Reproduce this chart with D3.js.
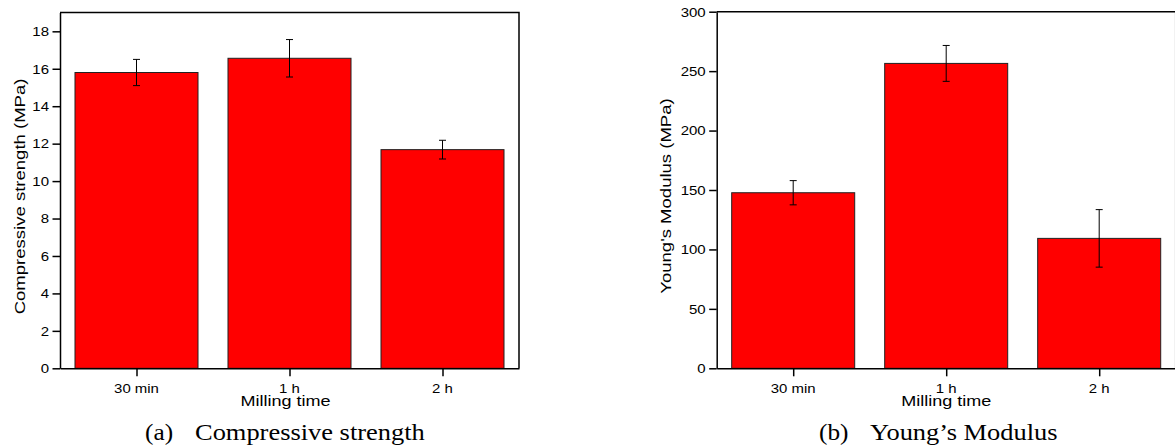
<!DOCTYPE html>
<html>
<head>
<meta charset="utf-8">
<script src="https://cdn.jsdelivr.net/npm/d3@7"></script>
<style>
  body { margin: 0; background: #fff; }
  svg { display: block; }
</style>
</head>
<body>
<div class="chart"></div>
<script>
// page size
let svg_width = 1175;
let svg_height = 446;

// data
let categories = ['30 min', '1 h', '2 h'];
let strength_values = [15.8, 16.56, 11.68];
let strength_errors = [0.7, 1.0, 0.5];
let modulus_values = [147.7, 256.5, 109.3];
let modulus_errors = [10.2, 15.1, 24.2];
let strength_ticks = [0, 2, 4, 6, 8, 10, 12, 14, 16, 18];
let modulus_ticks = [0, 50, 100, 150, 200, 250, 300];

// layout
let plot_bottom = 368.3;
let plot_w = 459;
let bar_width = 0.804;      // in category units
let sans = 'Liberation Sans, Arial, sans-serif';
let serif = 'Liberation Serif, Times New Roman, serif';

let panels = [
  { left: 60, top: 12.6, ymax: 19, values: strength_values, errors: strength_errors,
    ticks: strength_ticks, ytitle: 'Compressive strength (MPa)', ytitle_x: 20, xtitle_dx: -4,
    cap_x: 145, cap_label: '(a)', cap_text_x: 195, cap_text: 'Compressive strength' },
  { left: 716.7, top: 11.7, ymax: 300, values: modulus_values, errors: modulus_errors,
    ticks: modulus_ticks, ytitle: "Young's Modulus (MPa)", ytitle_x: 666, xtitle_dx: 0,
    cap_x: 819, cap_label: '(b)', cap_text_x: 870, cap_text: 'Young\u2019s Modulus' }
];

let svg = d3.select('.chart')
            .append('svg')
            .attr('width', svg_width)
            .attr('height', svg_height);

// text that is a bit wider than the font normally is
function wideText(g, x, y, txt, size, sx, anchor, rot, family) {
  return g.append('text')
          .attr('transform', 'translate(' + x + ',' + y + ') rotate(' + (rot || 0) + ') scale(' + sx + ',1)')
          .attr('text-anchor', anchor)
          .attr('font-family', family || sans)
          .attr('font-size', size)
          .attr('fill', '#000')
          .text(txt);
}

function drawPanel(p) {
  let g = svg.append('g');

  let x_scale = d3.scaleLinear()
                  .domain([0.5, categories.length + 0.5])
                  .range([p.left, p.left + plot_w]);

  let y_scale = d3.scaleLinear()
                  .domain([0, p.ymax])
                  .range([plot_bottom, p.top]);

  // bars
  g.selectAll('rect.bar')
    .data(p.values)
    .enter()
    .append('rect')
    .attr('class', 'bar')
    .attr('fill', '#ff0000')
    .attr('stroke', '#222')
    .attr('stroke-width', 1)
    .attr('x', function(d, i) { return x_scale(i + 1 - bar_width / 2); })
    .attr('y', function(d) { return y_scale(d); })
    .attr('width', x_scale(1 + bar_width) - x_scale(1))
    .attr('height', function(d) { return y_scale(0) - y_scale(d); });

  // error bars
  let err = g.selectAll('g.err')
             .data(p.values)
             .enter()
             .append('g')
             .attr('class', 'err')
             .attr('stroke', '#000')
             .attr('stroke-width', 1);

  err.append('line')
     .attr('x1', function(d, i) { return x_scale(i + 1); })
     .attr('x2', function(d, i) { return x_scale(i + 1); })
     .attr('y1', function(d, i) { return y_scale(d + p.errors[i]); })
     .attr('y2', function(d, i) { return y_scale(d - p.errors[i]); });

  [1, -1].forEach(function(s) {
    err.append('line')
       .attr('x1', function(d, i) { return x_scale(i + 1) - 3.5; })
       .attr('x2', function(d, i) { return x_scale(i + 1) + 3.5; })
       .attr('y1', function(d, i) { return y_scale(d + s * p.errors[i]); })
       .attr('y2', function(d, i) { return y_scale(d + s * p.errors[i]); });
  });

  // frame (top and right)
  g.append('path')
   .attr('d', 'M' + x_scale.range()[0] + ',' + y_scale.range()[1] +
              'H' + x_scale.range()[1] + 'V' + y_scale.range()[0])
   .attr('fill', 'none')
   .attr('stroke', '#000')
   .attr('stroke-width', 1.5);

  // y axis
  let y_axis = g.append('g')
                .attr('transform', 'translate(' + p.left + ',0)')
                .call(d3.axisLeft(y_scale).tickValues(p.ticks).tickSize(7.5).tickSizeOuter(0).tickFormat(''));
  y_axis.select('.domain').attr('stroke-width', 1.5);
  y_axis.selectAll('.tick line').attr('stroke-width', 1.5);
  p.ticks.forEach(function(t) {
    wideText(g, p.left - 11, y_scale(t) + 4.8, t, 13.4, 1.12, 'end');
  });

  // x axis
  let x_axis = g.append('g')
                .attr('transform', 'translate(0,' + plot_bottom + ')')
                .call(d3.axisBottom(x_scale).tickValues([1, 2, 3]).tickSize(8).tickSizeOuter(0).tickFormat(''));
  x_axis.select('.domain').attr('stroke-width', 1.5);
  x_axis.selectAll('.tick line').attr('stroke-width', 1.5);
  categories.forEach(function(c, i) {
    wideText(g, x_scale(i + 1), 392.5, c, 13.6, 1.1, 'middle');
  });

  // axis titles
  wideText(g, (x_scale.range()[0] + x_scale.range()[1]) / 2 + p.xtitle_dx, 406, 'Milling time', 14.2, 1.27, 'middle');
  wideText(g, p.ytitle_x + 5, (y_scale.range()[0] + y_scale.range()[1]) / 2 + 6, p.ytitle, 14.6, 1.27, 'middle', -90);

  // caption
  wideText(g, p.cap_x, 439.5, p.cap_label, 23, 1.1, 'start', 0, serif);
  wideText(g, p.cap_text_x, 439.5, p.cap_text, 23, 1.15, 'start', 0, serif);
}

panels.forEach(drawPanel);
</script>
</body>
</html>
